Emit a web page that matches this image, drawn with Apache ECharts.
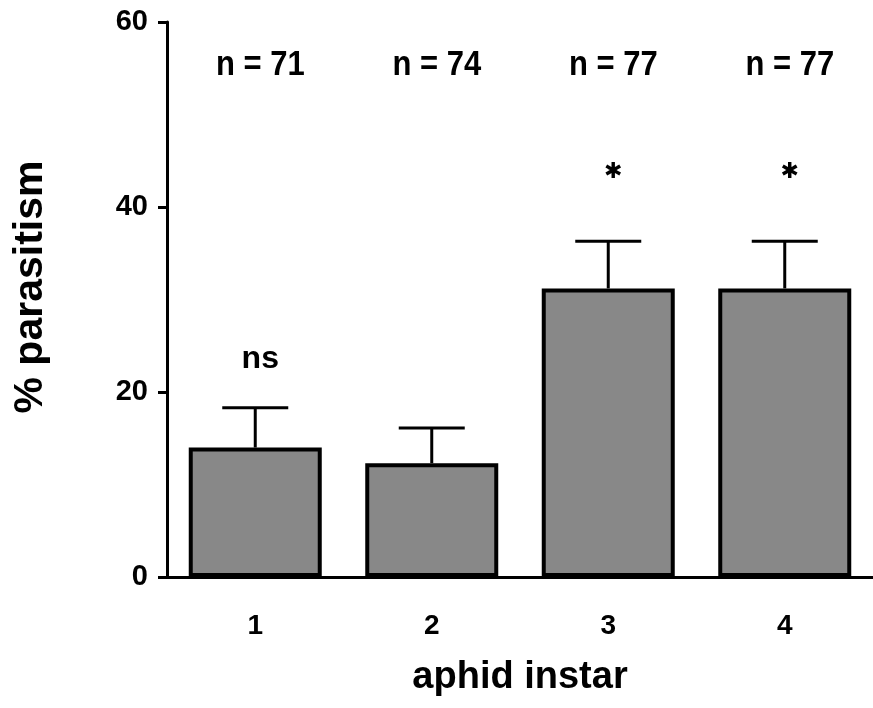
<!DOCTYPE html>
<html>
<head>
<meta charset="utf-8">
<script src="https://cdn.jsdelivr.net/npm/echarts@6/dist/echarts.min.js"></script>
<style>
html, body { margin: 0; padding: 0; background: #fff; }
#main { width: 873px; height: 708px; }
</style>
</head>
<body>
<div id="main"></div>
<script>
// data
var instars = ['1', '2', '3', '4'];
var parasitism = [14.0, 12.3, 31.2, 31.2];
var errorTop = [18.3, 16.1, 36.3, 36.3];
var nLabels = ['n = 71', 'n = 74', 'n = 77', 'n = 77'];
var nLevel = 55.3;
var sigLabels = ['ns', '', '\u2731', '\u2731'];
var sigLevel = [23.6, null, 43.8, 43.8];
var yTicks = [0, 20, 40, 60];

var font = '"Liberation Sans", Arial, Helvetica, sans-serif';

var errData = instars.map(function (c, i) { return [i, parasitism[i], errorTop[i]]; });
var nData = instars.map(function (c, i) { return [i, nLevel]; });
var sigData = [];
for (var i = 0; i < instars.length; i++) {
  if (sigLabels[i]) sigData.push([i, sigLevel[i], sigLabels[i]]);
}

var myChart = echarts.init(document.getElementById('main'));

var option = {
  backgroundColor: '#fff',
  animation: false,
  grid: { left: 167, top: 22, width: 713, bottom: 131, containLabel: false },
  // y title kept as free text so it can sit a little above the axis middle like the original
  graphic: [{
    type: 'text',
    x: 31, y: 287,
    rotation: Math.PI / 2,
    style: {
      text: '% parasitism', fontFamily: font, fontWeight: 'bold', fontSize: 41,
      fill: '#000', align: 'center', verticalAlign: 'middle'
    }
  }],
  xAxis: {
    type: 'category',
    data: instars,
    name: 'aphid instar',
    nameLocation: 'middle',
    nameGap: 82,
    nameTextStyle: { fontFamily: font, fontWeight: 'bold', fontSize: 38, color: '#000' },
    axisLine: { lineStyle: { color: '#000', width: 3 } },
    axisTick: { show: false },
    axisLabel: { margin: 35, fontFamily: font, fontWeight: 'bold', fontSize: 28, color: '#000' }
  },
  yAxis: {
    type: 'value',
    min: 0,
    max: 60,
    interval: 20,
    axisLine: { show: true, lineStyle: { color: '#000', width: 3 } },
    axisTick: { show: true, inside: false, length: 9, lineStyle: { color: '#000', width: 3 } },
    axisLabel: {
      margin: 19, fontFamily: font, fontWeight: 'bold', fontSize: 29, color: '#000',
      formatter: function (v) { return yTicks.indexOf(v) >= 0 ? String(v) : ''; }
    },
    splitLine: { show: false }
  },
  series: [
    {
      type: 'bar',
      data: parasitism,
      barWidth: 133,
      itemStyle: { color: '#888888', borderColor: '#000', borderWidth: 4 },
      z: 3
    },
    {
      // error bars (upper side only, as in the figure)
      type: 'custom',
      data: errData,
      z: 2,
      renderItem: function (params, api) {
        var p0 = api.coord([api.value(0), api.value(1)]);
        var p1 = api.coord([api.value(0), api.value(2)]);
        var st = { stroke: '#000', lineWidth: 3 };
        return {
          type: 'group',
          children: [
            { type: 'line', shape: { x1: p0[0], y1: p0[1], x2: p1[0], y2: p1[1] }, style: st },
            { type: 'line', shape: { x1: p1[0] - 33, y1: p1[1], x2: p1[0] + 33, y2: p1[1] }, style: st }
          ]
        };
      }
    },
    {
      type: 'custom',
      data: nData,
      renderItem: function (params, api) {
        var p = api.coord([api.value(0), api.value(1)]);
        return {
          type: 'text', x: p[0] + 5, y: p[1], scaleY: 1.15,
          style: { text: nLabels[params.dataIndex], fontFamily: font, fontWeight: 'bold', fontSize: 31, fill: '#000', align: 'center', verticalAlign: 'middle' }
        };
      }
    },
    {
      type: 'custom',
      data: sigData,
      renderItem: function (params, api) {
        var p = api.coord([api.value(0), api.value(1)]);
        var t = sigData[params.dataIndex][2];
        return {
          type: 'text', x: p[0] + 5, y: p[1],
          style: { text: t, fontFamily: t === 'ns' ? font : '"DejaVu Sans", sans-serif', fontWeight: 'bold', fontSize: t === 'ns' ? 32 : 22, fill: '#000', align: 'center', verticalAlign: 'middle' }
        };
      }
    }
  ]
};

myChart.setOption(option);
</script>
</body>
</html>
